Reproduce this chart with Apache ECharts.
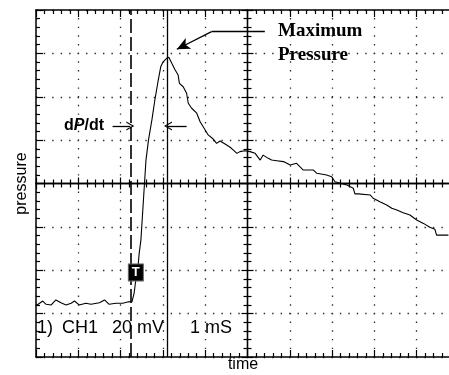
<!DOCTYPE html>
<html>
<head>
<meta charset="utf-8">
<script src="https://cdn.jsdelivr.net/npm/echarts@6/dist/echarts.min.js"></script>
<style>
html, body { margin: 0; padding: 0; background: #fff; }
#main { width: 449px; height: 375px; }
</style>
</head>
<body>
<div id="main"></div>
<script>
// scope trace, 1 mS/div and 20 mV/div
var timeMs = [0, 0.16, 0.24, 0.36, 0.47, 0.59, 0.71, 0.83, 0.91, 1.02, 1.18, 1.30, 1.50, 1.62, 1.73, 1.89,
  2.05, 2.17, 2.27, 2.32, 2.36, 2.40, 2.44, 2.48, 2.54, 2.60, 2.66, 2.74, 2.81, 2.89, 2.95, 3.01, 3.09,
  3.14, 3.21, 3.29, 3.36, 3.39, 3.48, 3.56, 3.60, 3.68, 3.80, 3.88, 4.00, 4.07, 4.19, 4.27, 4.35, 4.47,
  4.59, 4.66, 4.75, 4.82, 4.94, 5.06, 5.18, 5.30, 5.37, 5.49, 5.57, 5.69, 5.85, 6.01, 6.16, 6.32, 6.56,
  6.64, 6.87, 6.99, 7.07, 7.19, 7.35, 7.50, 7.54, 7.62, 7.90, 7.97, 8.13, 8.29, 8.41, 8.53, 8.68, 8.84,
  9.00, 9.16, 9.31, 9.43, 9.47, 9.75];
var pressureMv = [-56.4, -54.2, -55.7, -56.0, -53.7, -55.0, -56.0, -55.2, -54.2, -56.0, -55.2, -55.7, -55.0, -53.7, -55.7, -55.2,
  -55.2, -54.6, -54.5, -50.5, -44.5, -40.7, -32.1, -26.1, -7.6, 10.8, 20.1, 29.3, 38.5, 47.7, 53.9, 56.2, 57.7,
  58.2, 55.4, 52.3, 50.0, 46.2, 44.6, 41.6, 37.0, 34.7, 32.4, 28.5, 24.7, 22.4, 20.5, 18.5, 19.6, 18.2,
  16.7, 15.5, 13.9, 14.7, 15.1, 14.7, 13.9, 10.8, 13.1, 11.6, 10.8, 10.5, 10.1, 8.5, 9.3, 6.2, 6.2,
  4.7, 3.9, 3.1, 0.8, 0.1, -0.7, -2.2, -4.8, -4.8, -5.3, -6.8, -8.4, -9.9, -11.4, -12.2, -13.5, -14.5,
  -16.8, -18.4, -20.2, -21.1, -23.8, -23.8];

var cursorStart = 2.25;   // dashed cursor
var cursorPeak = 3.10;    // solid cursor
var triggerMark = [2.36, -41];
var dpdtLevel = 26.5;
var peakArrow = [[5.41, 70], [4.15, 70], [3.33, 61.9]];

var traceData = timeMs.map(function (t, i) { return [t, pressureMv[i]]; });

var ink = '#000';
var dotColor = '#2a2a2a';
var sans = '"Liberation Sans", Arial, sans-serif';
var serif = '"Liberation Serif", "Times New Roman", serif';
var rect = { left: 36, top: 10, width: 423, height: 347, containLabel: false, outerBoundsMode: 'none' };
var openArrow = 'path://M0,10 L5,0 L10,10 L8.6,10 L5,2.8 L1.4,10 Z';

function scopeAxis(extra) {
  var base = {
    type: 'value',
    axisLabel: { show: false },
    axisLine: { show: true, onZero: false, lineStyle: { color: ink, width: 1.5 } },
    axisTick: { show: true, inside: true, length: 7, lineStyle: { color: ink, width: 1.2 } },
    minorTick: { show: true, splitNumber: 5, length: 4, lineStyle: { color: ink, width: 1.2 } },
    splitLine: { show: false }
  };
  return Object.assign(base, extra);
}

function centerAxis(extra) {
  return scopeAxis(Object.assign({
    gridIndex: 1,
    axisLine: { show: true, onZero: true, lineStyle: { color: ink, width: 1.3 } },
    axisTick: { show: true, inside: false, length: 6, lineStyle: { color: ink, width: 1.2 } }
  }, extra));
}

function label(text, x, y, size, family, weight) {
  return {
    type: 'text', x: x, y: y, silent: true,
    style: { text: text, fontSize: size, fontFamily: family, fontWeight: weight || 'normal', fill: ink, verticalAlign: 'middle' }
  };
}

var myChart = echarts.init(document.getElementById('main'));
var option = {
  animation: false,
  backgroundColor: '#fff',
  grid: [Object.assign({}, rect), Object.assign({}, rect)],
  xAxis: [
    scopeAxis({
      gridIndex: 0, min: 0, max: 10, interval: 1, position: 'bottom',
      splitLine: { show: true, lineStyle: { color: dotColor, width: 1.3, type: [1.4, 7.275], dashOffset: 0.7 } },
      name: 'time', nameLocation: 'middle', nameGap: 0,
      nameTextStyle: { color: ink, fontSize: 16, fontFamily: sans, padding: [0, 9, 0, 0] }
    }),
    scopeAxis({ gridIndex: 0, min: 0, max: 10, interval: 1, position: 'top' }),
    centerAxis({ min: -5, max: 5, interval: 1, position: 'bottom' }),
    centerAxis({ min: -5, max: 5, interval: 1, position: 'top' })
  ],
  yAxis: [
    scopeAxis({
      gridIndex: 0, min: -80, max: 80, interval: 20, position: 'left',
      splitLine: { show: true, lineStyle: { color: dotColor, width: 1.3, type: [1.4, 7.06], dashOffset: 0.7 } },
      name: 'pressure', nameLocation: 'middle', nameGap: 6, nameRotate: 90,
      nameTextStyle: { color: ink, fontSize: 16, fontFamily: sans }
    }),
    centerAxis({ min: -80, max: 80, interval: 20, position: 'left' }),
    centerAxis({ min: -80, max: 80, interval: 20, position: 'right' })
  ],
  series: [
    {
      type: 'line',
      xAxisIndex: 0,
      yAxisIndex: 0,
      data: traceData,
      showSymbol: false,
      silent: true,
      lineStyle: { color: ink, width: 1.1 },
      markLine: {
        silent: true,
        symbol: ['none', 'none'],
        label: { show: false },
        lineStyle: { color: ink, width: 1.3, type: 'solid' },
        data: [
          { xAxis: cursorStart, lineStyle: { type: [14, 4], width: 1.6 } },
          { xAxis: cursorPeak },
          [{ coord: [1.81, dpdtLevel], symbol: 'none' },
           { coord: [cursorStart - 0.02, dpdtLevel], symbol: openArrow, symbolSize: [9, 8] }],
          [{ coord: [3.56, dpdtLevel], symbol: 'none' },
           { coord: [cursorPeak + 0.02, dpdtLevel], symbol: openArrow, symbolSize: [9, 8] }],
          [{ coord: peakArrow[0], symbol: 'none' }, { coord: peakArrow[1], symbol: 'none' }],
          [{ coord: peakArrow[1], symbol: 'none' },
           { coord: peakArrow[2], symbol: 'arrow', symbolSize: [9, 13] }]
        ]
      },
      markPoint: {
        silent: true,
        data: [{
          coord: triggerMark,
          symbol: 'rect',
          symbolSize: [15, 17],
          itemStyle: { color: ink, borderColor: '#666', borderWidth: 1 },
          label: { show: true, position: 'inside', formatter: 'T', color: '#fff', fontWeight: 'bold', fontSize: 13, fontFamily: sans }
        }]
      }
    }
  ],
  graphic: [
    label('Maximum', 278, 31, 19, serif, 'bold'),
    label('Pressure', 278, 55, 19, serif, 'bold'),
    {
      type: 'text', x: 64, y: 126, silent: true,
      style: {
        text: 'd{i|P}/dt', fontSize: 16, fontFamily: sans, fontWeight: 'bold', fill: ink, verticalAlign: 'middle',
        rich: { i: { fontStyle: 'italic', fontWeight: 'bold', fontSize: 16, fontFamily: sans } }
      }
    },
    label('1)', 37, 328, 18, sans),
    label('CH1', 62, 328, 18, sans),
    label('20 mV', 112, 328, 18, sans),
    label('1 mS', 190, 328, 18, sans)
  ]
};
myChart.setOption(option);
</script>
</body>
</html>
